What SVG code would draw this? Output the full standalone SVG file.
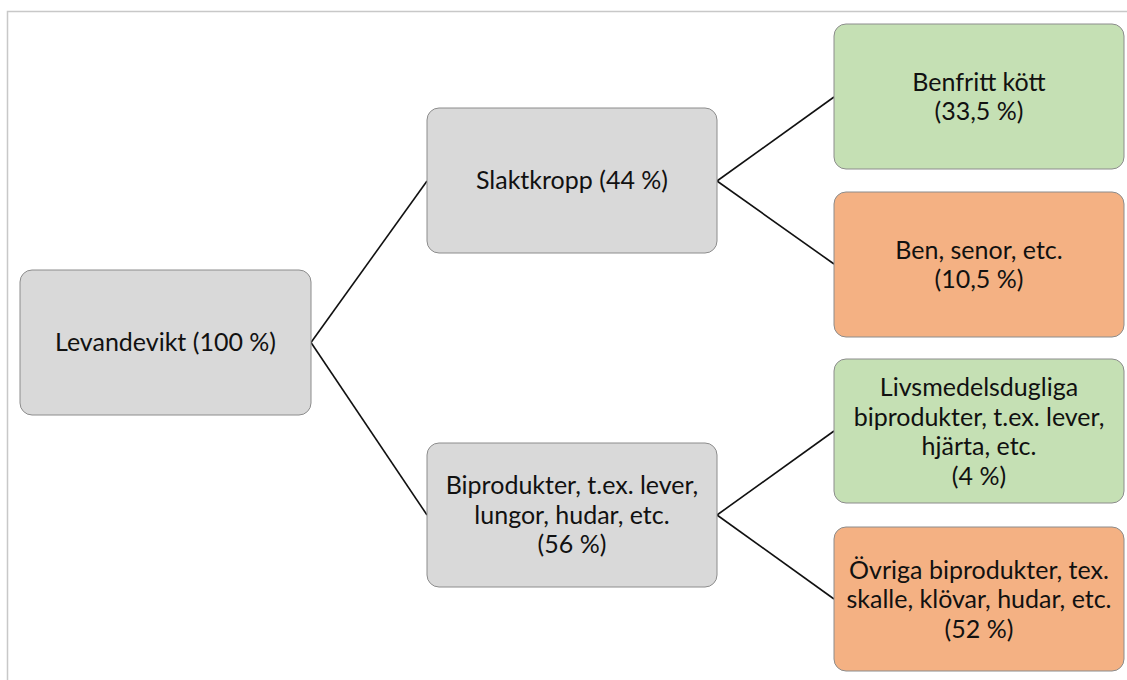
<svg xmlns="http://www.w3.org/2000/svg" width="1127" height="680" viewBox="0 0 1127 680">
<style>
.box{stroke:#8c8c8c;stroke-width:1}
.g{fill:#d9d9d9}.gr{fill:#c5e0b4}.o{fill:#f4b183}
text{font-family:Lato,"Liberation Sans",sans-serif;font-size:25px;fill:#111;text-anchor:middle}
.con line{stroke:#111;stroke-width:1.6}
</style>
<rect width="1127" height="680" fill="#fff"/>
<path d="M7.5,680 V11.5 H1127" fill="none" stroke="#c8c8c8" stroke-width="1.5"/>
<g class="con">
<line x1="311" y1="342.5" x2="427" y2="181"/>
<line x1="311" y1="342.5" x2="427" y2="515"/>
<line x1="717" y1="181" x2="834" y2="97"/>
<line x1="717" y1="181" x2="834" y2="264"/>
<line x1="717" y1="515" x2="834" y2="431"/>
<line x1="717" y1="515" x2="834" y2="599"/>
</g>
<g id="levandevikt"><rect class="box g" x="20" y="270" width="291" height="145" rx="12"/><text x="165.5" y="351">Levandevikt (100 %)</text></g>
<g id="slaktkropp"><rect class="box g" x="427" y="108" width="290" height="145" rx="12"/><text x="572" y="189">Slaktkropp (44 %)</text></g>
<g id="biprodukter"><rect class="box g" x="427" y="443" width="290" height="144" rx="12"/><text x="572" y="494">Biprodukter, t.ex. lever,</text><text x="572" y="523.5">lungor, hudar, etc.</text><text x="572" y="553">(56 %)</text></g>
<g id="benfritt"><rect class="box gr" x="834" y="24" width="290" height="145" rx="12"/><text x="979" y="90.5">Benfritt kött</text><text x="979" y="120">(33,5 %)</text></g>
<g id="ben"><rect class="box o" x="834" y="192" width="290" height="145" rx="12"/><text x="979" y="258.5">Ben, senor, etc.</text><text x="979" y="288">(10,5 %)</text></g>
<g id="livsmedel"><rect class="box gr" x="834" y="359" width="290" height="144" rx="12"/><text x="979" y="396">Livsmedelsdugliga</text><text x="979" y="425.5">biprodukter, t.ex. lever,</text><text x="979" y="455">hjärta, etc.</text><text x="979" y="484.5">(4 %)</text></g>
<g id="ovriga"><rect class="box o" x="834" y="527" width="290" height="144" rx="12"/><text x="979" y="578.5">Övriga biprodukter, tex.</text><text x="979" y="608">skalle, klövar, hudar, etc.</text><text x="979" y="637.5">(52 %)</text></g>
</svg>
